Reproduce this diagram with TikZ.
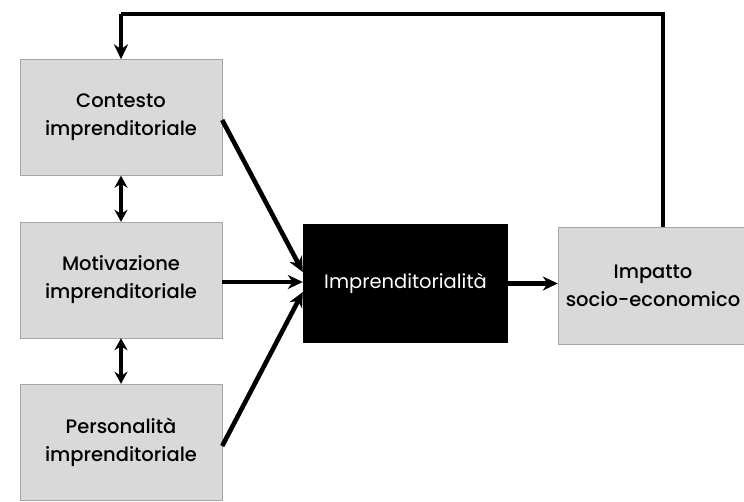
\documentclass[tikz,border=0pt]{standalone}
\usepackage{fontspec}
\setmainfont{Poppins}
\newfontfamily\medfont{Poppins}[UprightFont=* Medium]
\usetikzlibrary{arrows.meta}
\begin{document}
\begin{tikzpicture}[x=1pt,y=-1pt,
  graybox/.style={draw=gray!70, fill=gray!30, minimum width=202pt, minimum height=116pt, align=center, font=\medfont\fontsize{19.5}{28}\selectfont, inner sep=0pt, text=black},
  blackbox/.style={fill=black, minimum width=205pt, minimum height=119pt, text=white, font=\fontsize{19.5}{28}\selectfont, inner sep=0pt},
  conn/.style={line width=4.6pt, -{Stealth[length=15pt,width=14pt]}},
  dconn/.style={line width=4.6pt, {Stealth[length=12pt,width=13pt]}-{Stealth[length=12pt,width=13pt]}},
  plain/.style={line width=4.6pt}]
\useasboundingbox (0,0) rectangle (744,501);
\node[graybox] (ctx) at (121,117.5) {Contesto\\imprenditoriale};
\node[graybox] (mot) at (121,280) {Motivazione\\imprenditoriale};
\node[graybox] (pers) at (121,442) {Personalità\\imprenditoriale};
\node[blackbox] (impr) at (405.5,283.5) {Imprenditorialità};
\node[graybox, minimum width=190pt, minimum height=117pt] (imp) at (653,285.5) {Impatto\\socio-economico};
\coordinate (tl) at (121,14);
\coordinate (tr) at (663,14);
\draw[plain] (imp.north -| tr) -- (tr) -- (tl);
\draw[conn] (tl) -- (ctx.north);
\draw[dconn] (ctx.south) -- (mot.north);
\draw[dconn] (mot.south) -- (pers.north);
\draw[conn] (ctx.east |- 0,120) -- (impr.west |- 0,272);
\draw[conn] (mot.east |- 0,282) -- (impr.west |- 0,282);
\draw[conn] (pers.east |- 0,446) -- (impr.west |- 0,292);
\draw[conn] (impr.east) -- (imp.west |- impr.east);
\end{tikzpicture}
\end{document}
